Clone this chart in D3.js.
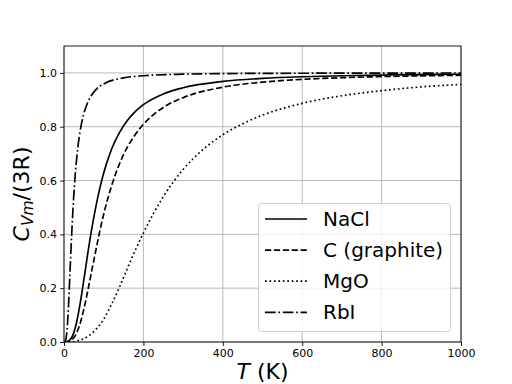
<!DOCTYPE html>
<html>
<head>
<meta charset="utf-8">
<script src="https://cdn.jsdelivr.net/npm/d3@7"></script>
<style>
  body { margin: 0; background: #fff; }
  svg text { font-family: "DejaVu Sans", sans-serif; }
</style>
</head>
<body>
<div class="vis"></div>
<script>
const w = 512;
const h = 384;
const margin = { left: 64, right: 51, top: 46, bottom: 42 };

// values
const tNaCl = [0, 5, 10, 15, 20, 25, 30, 40, 50, 60, 70, 80, 90, 100, 120, 140, 160, 180, 200, 250, 300, 400, 500, 600, 700, 800, 900, 1000];
const cNaCl = [0, 0.0003, 0.0024, 0.008, 0.0186, 0.0365, 0.062, 0.137, 0.231, 0.33, 0.421, 0.501, 0.57, 0.628, 0.717, 0.779, 0.824, 0.857, 0.882, 0.922, 0.945, 0.9685, 0.9797, 0.9858, 0.9895, 0.992, 0.9937, 0.9949];

const tGraphite = [0, 10, 15, 20, 25, 30, 40, 50, 60, 70, 80, 90, 100, 120, 140, 160, 180, 200, 250, 300, 400, 500, 600, 700, 800, 900, 1000];
const cGraphite = [0, 0.0011, 0.0035, 0.0084, 0.0163, 0.028, 0.0658, 0.122, 0.191, 0.266, 0.339, 0.411, 0.475, 0.581, 0.663, 0.725, 0.772, 0.809, 0.8715, 0.908, 0.947, 0.9656, 0.976, 0.9822, 0.9863, 0.9891, 0.9912];

const tMgO = [0, 20, 40, 60, 80, 100, 120, 140, 160, 180, 200, 250, 300, 350, 400, 450, 500, 600, 700, 800, 900, 1000];
const cMgO = [0, 0.0008, 0.007, 0.021, 0.046, 0.085, 0.141, 0.205, 0.275, 0.342, 0.405, 0.54, 0.641, 0.715, 0.77, 0.811, 0.843, 0.887, 0.915, 0.934, 0.948, 0.957];

const tRbI = [0, 2, 4, 6, 8, 10, 12, 15, 20, 25, 30, 35, 40, 50, 60, 80, 100, 150, 200, 300, 400, 600, 800, 1000];
const cRbI = [0, 0.0008, 0.0064, 0.0214, 0.0505, 0.096, 0.155, 0.256, 0.42, 0.553, 0.652, 0.725, 0.778, 0.849, 0.891, 0.937, 0.959, 0.9815, 0.9895, 0.9953, 0.9974, 0.9988, 0.9993, 0.9996];

const names = ["NaCl", "C (graphite)", "MgO", "RbI"];
const xTicks = [0, 200, 400, 600, 800, 1000];
const yTicks = [0, 0.2, 0.4, 0.6, 0.8, 1.0];

const series = [
  { name: names[0], t: tNaCl, c: cNaCl, dash: null },
  { name: names[1], t: tGraphite, c: cGraphite, dash: "6.2,2.7" },
  { name: names[2], t: tMgO, c: cMgO, dash: "1.7,2.75" },
  { name: names[3], t: tRbI, c: cRbI, dash: "10.7,2.7,1.7,2.7" },
];

const svg = d3
  .select(".vis")
  .append("svg")
  .attr("width", w)
  .attr("height", h);

const x = d3.scaleLinear().domain([0, 1000]).range([margin.left, w - margin.right]);
const y = d3.scaleLinear().domain([0, 1.1]).range([h - margin.bottom, margin.top]);

// grid
svg.append("g")
  .selectAll("line")
  .data(xTicks)
  .enter()
  .append("line")
  .attr("x1", (d) => x(d))
  .attr("x2", (d) => x(d))
  .attr("y1", y(0))
  .attr("y2", y(1.1))
  .attr("stroke", "#b0b0b0")
  .attr("stroke-width", 0.9);
svg.append("g")
  .selectAll("line")
  .data(yTicks)
  .enter()
  .append("line")
  .attr("x1", x(0))
  .attr("x2", x(1000))
  .attr("y1", (d) => y(d))
  .attr("y2", (d) => y(d))
  .attr("stroke", "#b0b0b0")
  .attr("stroke-width", 0.9);

svg.append("clipPath")
  .attr("id", "clip")
  .append("rect")
  .attr("x", x(0))
  .attr("y", y(1.1))
  .attr("width", x(1000) - x(0))
  .attr("height", y(0) - y(1.1));

const line = d3
  .line()
  .x((d) => x(d[0]))
  .y((d) => y(d[1]))
  .curve(d3.curveMonotoneX);

svg.append("g")
  .attr("clip-path", "url(#clip)")
  .selectAll("path")
  .data(series)
  .enter()
  .append("path")
  .attr("d", (s) => line(s.t.map((t, i) => [t, s.c[i]])))
  .attr("fill", "none")
  .attr("stroke", "black")
  .attr("stroke-width", 1.67)
  .attr("stroke-dasharray", (s) => s.dash);

// axes
const xAxis = svg.append("g")
  .attr("transform", `translate(0,${y(0)})`)
  .call(d3.axisBottom(x).tickValues(xTicks).tickSize(3.9).tickPadding(3).tickFormat(d3.format("d")));
const yAxis = svg.append("g")
  .attr("transform", `translate(${x(0)},0)`)
  .call(d3.axisLeft(y).tickValues(yTicks).tickSize(3.9).tickPadding(3).tickFormat(d3.format(".1f")));
[xAxis, yAxis].forEach((a) => {
  a.select(".domain").remove();
  a.selectAll("text").attr("font-size", "11px").attr("font-family", "DejaVu Sans").attr("fill", "black");
  a.selectAll("line").attr("stroke", "black").attr("stroke-width", 0.9);
});

// frame
svg.append("rect")
  .attr("x", x(0))
  .attr("y", y(1.1))
  .attr("width", x(1000) - x(0))
  .attr("height", y(0) - y(1.1))
  .attr("fill", "none")
  .attr("stroke", "black")
  .attr("stroke-width", 0.9);

// axis labels
const xl = svg.append("text")
  .attr("x", (x(0) + x(1000)) / 2)
  .attr("y", 379)
  .attr("text-anchor", "middle")
  .attr("font-size", "22px");
xl.append("tspan").attr("font-style", "italic").text("T");
xl.append("tspan").text(" (K)");

const yl = svg.append("text")
  .attr("transform", `translate(29,${(y(0) + y(1.1)) / 2}) rotate(-90)`)
  .attr("text-anchor", "middle")
  .attr("font-size", "22px");
yl.append("tspan").attr("font-style", "italic").text("C");
yl.append("tspan").attr("font-style", "italic").attr("font-size", "15.5px").attr("dy", 4).text("Vm");
yl.append("tspan").attr("dy", -4).text("/(3R)");

// legend
const legend = svg.append("g").attr("id", "legend");
legend.append("rect")
  .attr("x", 258.5)
  .attr("y", 203.5)
  .attr("width", 192)
  .attr("height", 128)
  .attr("rx", 3)
  .attr("fill", "white")
  .attr("fill-opacity", 0.8)
  .attr("stroke", "#cccccc")
  .attr("stroke-width", 0.9);

legend.selectAll("line")
  .data(series)
  .enter()
  .append("line")
  .attr("x1", 265)
  .attr("x2", 307)
  .attr("y1", (d, i) => 219 + i * 31.1)
  .attr("y2", (d, i) => 219 + i * 31.1)
  .attr("stroke", "black")
  .attr("stroke-width", 1.67)
  .attr("stroke-dasharray", (s) => s.dash);

legend.selectAll("text")
  .data(series)
  .enter()
  .append("text")
  .attr("x", 323)
  .attr("y", (d, i) => 219 + i * 31.1 + 7)
  .attr("font-size", "20px")
  .attr("fill", "black")
  .text((d) => d.name);
</script>
</body>
</html>
